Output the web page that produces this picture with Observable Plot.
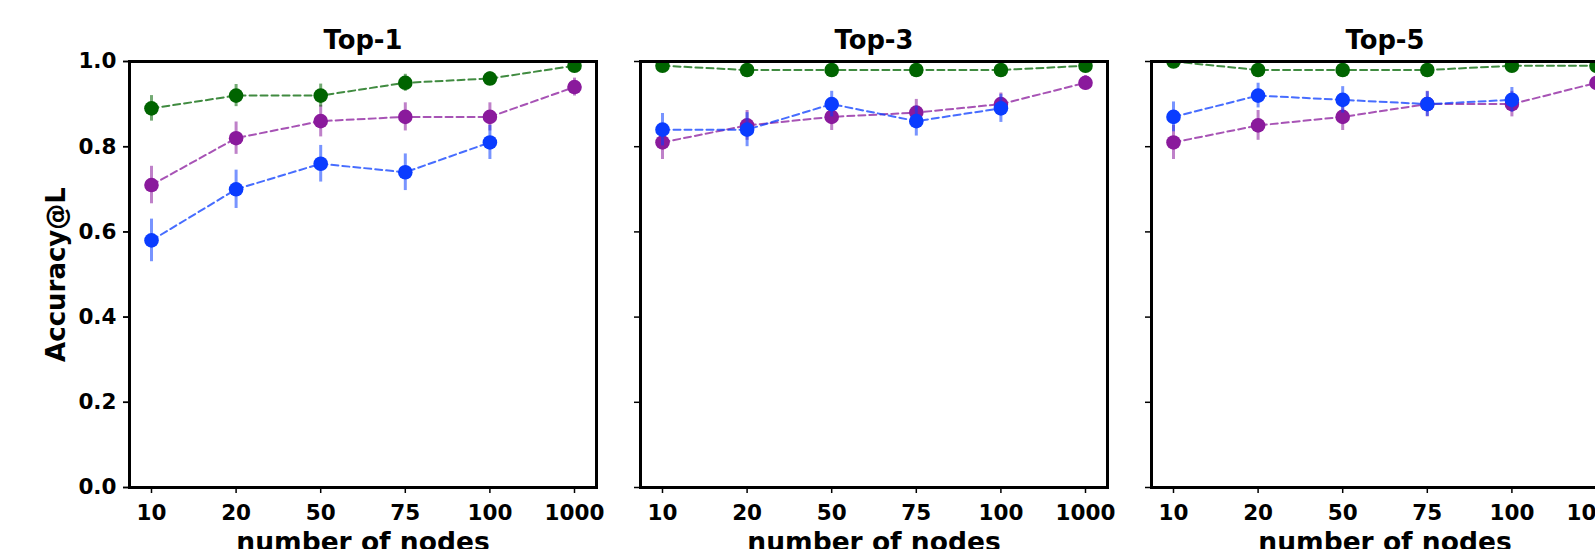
<!DOCTYPE html>
<html>
<head>
<meta charset="utf-8">
<script src="https://cdn.jsdelivr.net/npm/d3@7"></script>
<script src="https://cdn.jsdelivr.net/npm/@observablehq/plot@0.6"></script>
<style>
  html, body { margin: 0; padding: 0; background: white; overflow: hidden; }
  #chart { width: 1595px; height: 549px; overflow: hidden; }
</style>
</head>
<body>
<div id="chart"></div>
<script>
// ---- data ----
const panels = ["Top-1", "Top-3", "Top-5"];
const nodeLabels = ["10", "20", "50", "75", "100", "1000"];
const yTicks = [0, 0.2, 0.4, 0.6, 0.8, 1.0];

const top1Green = [0.89, 0.92, 0.92, 0.95, 0.96, 0.99];
const top1GreenErr = [0.03, 0.026, 0.027, 0.02, 0.016, 0.01];
const top1Purple = [0.71, 0.82, 0.86, 0.87, 0.87, 0.94];
const top1PurpleErr = [0.044, 0.038, 0.037, 0.033, 0.033, 0.021];
const top1Blue = [0.58, 0.70, 0.76, 0.74, 0.81, null];
const top1BlueErr = [0.05, 0.045, 0.043, 0.043, 0.04, null];

const top3Green = [0.99, 0.98, 0.98, 0.98, 0.98, 0.99];
const top3GreenErr = [0.005, 0.005, 0.005, 0.005, 0.005, 0.005];
const top3Purple = [0.81, 0.85, 0.87, 0.88, 0.90, 0.95];
const top3PurpleErr = [0.04, 0.035, 0.032, 0.031, 0.026, 0.017];
const top3Blue = [0.84, 0.84, 0.90, 0.86, 0.89, null];
const top3BlueErr = [0.038, 0.04, 0.03, 0.035, 0.033, null];

const top5Green = [1.0, 0.98, 0.98, 0.98, 0.99, 0.99];
const top5GreenErr = [0.004, 0.005, 0.005, 0.005, 0.005, 0.005];
const top5Purple = [0.81, 0.85, 0.87, 0.90, 0.90, 0.95];
const top5PurpleErr = [0.04, 0.035, 0.032, 0.03, 0.03, 0.018];
const top5Blue = [0.87, 0.92, 0.91, 0.90, 0.91, null];
const top5BlueErr = [0.035, 0.029, 0.031, 0.029, 0.029, null];

const seriesNames = ["purple", "blue", "green"];
const seriesColors = {purple: "#8a1a9c", blue: "#0a3cff", green: "#006400"};

const panelData = {
  "Top-1": {green: [top1Green, top1GreenErr], purple: [top1Purple, top1PurpleErr], blue: [top1Blue, top1BlueErr]},
  "Top-3": {green: [top3Green, top3GreenErr], purple: [top3Purple, top3PurpleErr], blue: [top3Blue, top3BlueErr]},
  "Top-5": {green: [top5Green, top5GreenErr], purple: [top5Purple, top5PurpleErr], blue: [top5Blue, top5BlueErr]}
};

// tidy rows
const rows = [];
for (const p of panels) {
  for (const s of seriesNames) {
    const [vals, errs] = panelData[p][s];
    vals.forEach((v, i) => {
      if (v == null) return;
      rows.push({panel: p, series: s, x: nodeLabels[i], v, e: errs[i]});
    });
  }
}

const FONT = "DejaVu Sans, Liberation Sans, sans-serif";
const marks = [];
for (const s of seriesNames) {
  const d = rows.filter(r => r.series === s);
  const c = seriesColors[s];
  marks.push(
    Plot.ruleX(d, {fx: "panel", x: "x", y1: r => r.v - r.e, y2: r => r.v + r.e, stroke: c, strokeWidth: 3, strokeOpacity: 0.55, clip: true}),
    Plot.line(d, {fx: "panel", x: "x", y: "v", stroke: c, strokeWidth: 2, strokeOpacity: 0.75, strokeDasharray: "7,4", clip: true}),
    Plot.dot(d, {fx: "panel", x: "x", y: "v", r: 7.3, fill: c, stroke: "none", clip: true})
  );
}

const chart = Plot.plot({
  width: 1618,
  height: 549,
  marginLeft: 129,
  marginRight: 0,
  marginTop: 61,
  marginBottom: 62,
  style: {fontFamily: FONT, fontWeight: "bold", background: "white", maxWidth: "none", overflow: "visible"},
  fx: {domain: panels, axis: null, paddingInner: 44 / 511, paddingOuter: 0, round: false},
  x: {type: "point", domain: nodeLabels, padding: 0.26, round: false, axis: null},
  y: {domain: [0, 1], axis: null},
  marks: [
    ...marks,
    Plot.frame({stroke: "black", strokeWidth: 3}),
    Plot.axisX({ticks: nodeLabels, tickSize: 6, tickPadding: 11, fontSize: 21.5, label: null, stroke: "black", strokeWidth: 1.5, fill: "black"}),
    Plot.axisY({ticks: yTicks, tickSize: 6, tickPadding: 7, fontSize: 21.5, tickFormat: d3.format(".1f"), label: null, stroke: "black", strokeWidth: 1.5, fill: "black"}),
    Plot.axisY({ticks: yTicks, tickSize: 6, tickFormat: () => "", label: null, facetAnchor: null, stroke: "black", strokeWidth: 1.5}),
    Plot.text(panels, {fx: d => d, text: d => d, frameAnchor: "top", lineAnchor: "bottom", dy: -13, fontSize: 25.8, fontWeight: "bold", fill: "black"}),
    Plot.text(panels, {fx: d => d, text: () => "number of nodes", frameAnchor: "bottom", lineAnchor: "bottom", dy: 63, fontSize: 26.5, fontWeight: "bold", fill: "black"}),
    Plot.text(["Top-1"], {fx: d => d, text: () => "Accuracy@L", frameAnchor: "left", textAnchor: "middle", rotate: -90, lineAnchor: "middle", dx: -73, fontSize: 26, fontWeight: "bold", fill: "black"})
  ]
});
document.getElementById("chart").appendChild(chart);
</script>
</body>
</html>
